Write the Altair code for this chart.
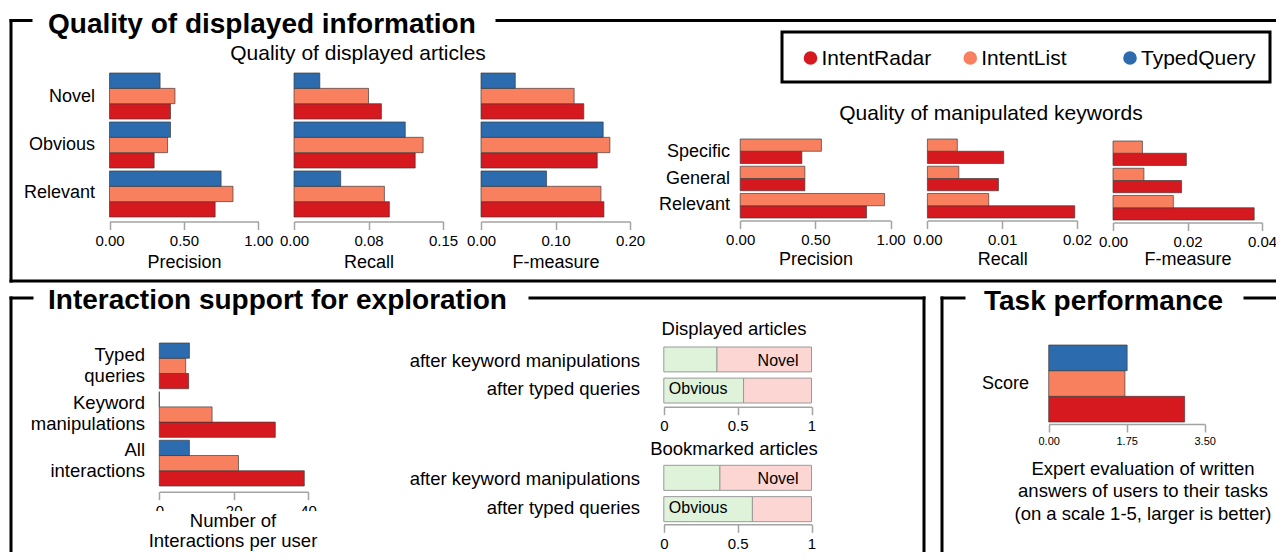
import altair as alt
import pandas as pd

# ---------------- data ----------------
series = ["IntentRadar", "IntentList", "TypedQuery"]
series_colors = ["#d6181f", "#f8805f", "#2b6bae"]

art_cats = ["Novel", "Obvious", "Relevant"]
art_prec_radar = [0.41, 0.30, 0.71]
art_prec_list = [0.44, 0.39, 0.83]
art_prec_typed = [0.34, 0.41, 0.75]
art_rec_radar = [0.088, 0.122, 0.096]
art_rec_list = [0.075, 0.130, 0.091]
art_rec_typed = [0.026, 0.112, 0.047]
art_f_radar = [0.138, 0.156, 0.165]
art_f_list = [0.125, 0.173, 0.161]
art_f_typed = [0.046, 0.164, 0.088]

kw_cats = ["Specific", "General", "Relevant"]
kw_prec_radar = [0.41, 0.43, 0.84]
kw_prec_list = [0.54, 0.43, 0.96]
kw_rec_radar = [0.0102, 0.0095, 0.0197]
kw_rec_list = [0.0040, 0.0042, 0.0082]
kw_f_radar = [0.0197, 0.0184, 0.0379]
kw_f_list = [0.0079, 0.0083, 0.0162]

int_cats = ["Typed\nqueries", "Keyword\nmanipulations", "All\ninteractions"]
int_radar = [7.9, 31.2, 39.0]
int_list = [7.1, 14.2, 21.3]
int_typed = [8.1, 0.0, 8.1]

stack_rows = ["after keyword manipulations", "after typed queries"]
stack_kinds = ["Obvious", "Novel"]
stack_colors = ["#dff2da", "#fbd6d3"]
disp_obvious = [0.36, 0.54]
disp_novel = [0.64, 0.46]
book_obvious = [0.38, 0.60]
book_novel = [0.62, 0.40]
segment_labels = ["Novel", "Obvious"]

task_cats = ["Score"]
task_radar = [3.05]
task_list = [1.71]
task_typed = [1.76]

# ---------------- layout helpers ----------------
OFF = 8
W, H = 1268, 544
FONT = "Liberation Sans"


def X(v):
    return v - OFF


def Y(v):
    return v - OFF


one = pd.DataFrame({"k": [0]})
LAYERS = []


def band_scale(cats, y_range, pad_inner):
    return alt.Scale(domain=cats, range=[Y(y_range[0]), Y(y_range[1])],
                     paddingInner=pad_inner, paddingOuter=0)


def cat_labels(cats, y_range, pad_inner, x_right, size=18, lh=21, dy=0):
    df = pd.DataFrame({"cat": cats})
    LAYERS.append(alt.Chart(df).mark_text(align="right", baseline="middle", fontSize=size,
                                          lineBreak="\n", lineHeight=lh, dy=dy,
                                          color="black").encode(
        x=alt.value(X(x_right)),
        y=alt.Y("cat:N", sort=cats, scale=band_scale(cats, y_range, pad_inner), axis=None),
        text="cat:N",
    ))


def grouped_panel(cats, vals, order, x_range, y_range, domain, ticks, axis_y, title,
                  pad_inner, label_right, fmt=".2f", label_expr=None, title_pad=5,
                  label_size=15, label_pad=4, cat_dy=0, cat_size=18):
    recs = []
    for s, v in vals.items():
        for c, x in zip(cats, v):
            recs.append({"cat": c, "series": s, "value": x})
    df = pd.DataFrame(recs)
    ax = dict(orient="bottom", offset=Y(axis_y) - H, values=ticks, format=fmt,
              title=title, titlePadding=title_pad, labelFontSize=label_size,
              labelPadding=label_pad)
    if label_expr:
        ax["labelExpr"] = label_expr
    LAYERS.append(alt.Chart(df).mark_bar(stroke="#3a3a3a", strokeWidth=0.8, strokeOpacity=0.85).encode(
        x=alt.X("value:Q", scale=alt.Scale(domain=domain, range=[X(x_range[0]), X(x_range[1])],
                                           nice=False, zero=True), axis=alt.Axis(**ax)),
        y=alt.Y("cat:N", sort=cats, scale=band_scale(cats, y_range, pad_inner), axis=None),
        yOffset=alt.YOffset("series:N", sort=order,
                            scale=alt.Scale(domain=order, paddingInner=0, paddingOuter=0)),
        color=alt.Color("series:N", scale=alt.Scale(domain=series, range=series_colors), legend=None),
    ))
    if label_right is not None:
        cat_labels(cats, y_range, pad_inner, label_right, size=cat_size, dy=cat_dy)


def stacked_panel(obv, nov, x_range, y_range, axis_y, label_right):
    recs = []
    for r, o, n in zip(stack_rows, obv, nov):
        recs.append({"cat": r, "kind": "Obvious", "value": o, "ord": 0})
        recs.append({"cat": r, "kind": "Novel", "value": n, "ord": 1})
    df = pd.DataFrame(recs)
    ys = band_scale(stack_rows, y_range, 0.2)
    LAYERS.append(alt.Chart(df).mark_bar(stroke="#9a9a9a", strokeWidth=1).encode(
        x=alt.X("value:Q", stack="zero",
                scale=alt.Scale(domain=[0, 1], range=[X(x_range[0]), X(x_range[1])], nice=False),
                axis=alt.Axis(orient="bottom", offset=Y(axis_y) - H, values=[0, 0.5, 1],
                              format="~g", title="", labelPadding=4)),
        y=alt.Y("cat:N", sort=stack_rows, scale=ys, axis=None),
        color=alt.Color("kind:N", scale=alt.Scale(domain=stack_kinds, range=stack_colors), legend=None),
        order=alt.Order("ord:Q"),
    ))
    # segment names: "Novel" at the right end of row 1, "Obvious" at the left end of row 2
    seg = pd.DataFrame({"cat": stack_rows, "pos": [1, 0], "label": segment_labels})
    xs2 = alt.Scale(domain=[0, 1], range=[X(x_range[0]), X(x_range[1])], nice=False)
    LAYERS.append(alt.Chart(seg).transform_filter("datum.pos == 1").mark_text(
        align="right", baseline="middle", fontSize=16, dx=-13, color="black").encode(
        x=alt.X("pos:Q", scale=xs2, axis=None),
        y=alt.Y("cat:N", sort=stack_rows, scale=ys, axis=None),
        text="label:N",
    ))
    LAYERS.append(alt.Chart(seg).transform_filter("datum.pos == 0").mark_text(
        align="left", baseline="middle", fontSize=16, dx=5, color="black").encode(
        x=alt.X("pos:Q", scale=xs2, axis=None),
        y=alt.Y("cat:N", sort=stack_rows, scale=ys, axis=None),
        text="label:N",
    ))
    cat_labels(stack_rows, y_range, 0.2, label_right, size=18.5)


def hline(x1, x2, y):
    return alt.Chart(one).mark_rule(strokeWidth=3, color="black", strokeCap="square").encode(
        x=alt.value(X(x1)), x2=alt.value(X(x2)), y=alt.value(Y(y)))


def vline(x, y1, y2):
    return alt.Chart(one).mark_rule(strokeWidth=3, color="black", strokeCap="square").encode(
        x=alt.value(X(x)), y=alt.value(Y(y1)), y2=alt.value(Y(y2)))


def text(t, x, y, size, align="center", baseline="middle", weight="normal", lh=None):
    kw = dict(text=t, align=align, baseline=baseline, fontSize=size, fontWeight=weight, color="black")
    if lh:
        kw["lineBreak"] = "\n"
        kw["lineHeight"] = lh
    return alt.Chart(one).mark_text(**kw).encode(x=alt.value(X(x)), y=alt.value(Y(y)))


# ---------------- panels ----------------
art_order = ["TypedQuery", "IntentList", "IntentRadar"]
kw_order = ["IntentList", "IntentRadar"]

grouped_panel(art_cats, {"IntentRadar": art_prec_radar, "IntentList": art_prec_list,
                         "TypedQuery": art_prec_typed}, art_order,
              [109.5, 258.3], [73, 217], [0, 1], [0, 0.5, 1], 221.5, "Precision", 0.06, 95)
grouped_panel(art_cats, {"IntentRadar": art_rec_radar, "IntentList": art_rec_list,
                         "TypedQuery": art_rec_typed}, art_order,
              [294, 443], [73, 217], [0, 0.15], [0, 0.075, 0.15], 221.5, "Recall", 0.06, None,
              label_expr="datum.value == 0.075 ? '0.08' : format(datum.value, '.2f')")
grouped_panel(art_cats, {"IntentRadar": art_f_radar, "IntentList": art_f_list,
                         "TypedQuery": art_f_typed}, art_order,
              [481, 630], [73, 217], [0, 0.2], [0, 0.1, 0.2], 221.5, "F-measure", 0.06, None)

grouped_panel(kw_cats, {"IntentRadar": kw_prec_radar, "IntentList": kw_prec_list}, kw_order,
              [740.2, 890.6], [139, 218], [0, 1], [0, 0.5, 1], 220.5, "Precision", 0.1, 730,
              title_pad=3)
grouped_panel(kw_cats, {"IntentRadar": kw_rec_radar, "IntentList": kw_rec_list}, kw_order,
              [927.4, 1077], [139, 218], [0, 0.02], [0, 0.01, 0.02], 220.5, "Recall", 0.1, None,
              title_pad=3)
grouped_panel(kw_cats, {"IntentRadar": kw_f_radar, "IntentList": kw_f_list}, kw_order,
              [1113, 1262], [141, 220], [0, 0.04], [0, 0.02, 0.04], 222.5, "F-measure", 0.1, None,
              title_pad=1)

grouped_panel(int_cats, {"IntentRadar": int_radar, "IntentList": int_list,
                         "TypedQuery": int_typed}, art_order,
              [159.3, 308], [343, 486], [0, 40], [0, 20, 40], 491.7, "", 0.06, 145, fmt="d",
              cat_dy=-12, cat_size=18.5)

stacked_panel(disp_obvious, disp_novel, [663.8, 811.5], [347, 403], 406.7, 640)
stacked_panel(book_obvious, book_novel, [663.8, 811.5], [465.3, 521.7], 524.3, 640)

grouped_panel(task_cats, {"IntentRadar": task_radar, "IntentList": task_list,
                          "TypedQuery": task_typed}, art_order,
              [1048.7, 1204.7], [345, 422], [0, 3.5], [0, 1.75, 3.5], 424, "", 0.0, 1029,
              label_size=11, label_pad=3)

# legend (series placed on a point scale)
leg_df = pd.DataFrame({"series": series})
leg_x = alt.Scale(type="point", domain=series, range=[X(810.5), X(1130)], padding=0)
LAYERS.append(alt.Chart(leg_df).mark_circle(size=185, opacity=1).encode(
    x=alt.X("series:N", scale=leg_x, axis=None),
    y=alt.value(Y(58)),
    color=alt.Color("series:N", scale=alt.Scale(domain=series, range=series_colors), legend=None),
))
LAYERS.append(alt.Chart(leg_df).mark_text(align="left", baseline="middle", fontSize=21, dx=11,
                                          color="black").encode(
    x=alt.X("series:N", scale=leg_x, axis=None),
    y=alt.value(Y(59)),
    text="series:N",
))
LAYERS.append(alt.Chart(one).mark_rect(fill="white", fillOpacity=0, stroke="black", strokeWidth=3).encode(
    x=alt.value(X(782)), x2=alt.value(X(1270)), y=alt.value(Y(32)), y2=alt.value(Y(82))))

# white strip hiding the lower part of the interaction tick labels, then the axis title
LAYERS.append(alt.Chart(one).mark_rect(fill="white").encode(
    x=alt.value(X(150)), x2=alt.value(X(320)), y=alt.value(Y(511)), y2=alt.value(Y(517.5))))
LAYERS.append(text("Number of\nInteractions per user", 233, 520.5, 18.5, lh=20.5))

LAYERS += [
    # top frame
    hline(11, 31, 20.5), hline(497, 1290, 20.5), vline(11, 20.5, 281), hline(11, 1290, 281),
    # bottom-left frame
    hline(11, 32, 298), hline(530, 924, 298), vline(11, 298, 600), vline(924, 298, 600),
    # bottom-right frame
    hline(942, 964, 298), hline(1245, 1290, 298), vline(942, 298, 600),
    text("Quality of displayed information", 48, 32.5, 28, align="left", baseline="alphabetic", weight="bold"),
    text("Interaction support for exploration", 48, 309, 28, align="left", baseline="alphabetic", weight="bold"),
    text("Task performance", 984, 309.5, 28, align="left", baseline="alphabetic", weight="bold"),
    text("Quality of displayed articles", 358, 54, 21),
    text("Quality of manipulated keywords", 991, 114, 21),
    text("Displayed articles", 734, 329, 18.5),
    text("Bookmarked articles", 734, 449, 18.5),
    text("Expert evaluation of written\nanswers of users to their tasks\n(on a scale 1-5, larger is better)",
         1143, 468.5, 18.5, lh=22.5),
]

chart = alt.layer(*LAYERS).resolve_scale(
    x="independent", y="independent", yOffset="independent", color="independent"
).properties(
    width=W, height=H, autosize=alt.AutoSizeParams(type="none"), padding=0
).configure(
    font=FONT
).configure_view(
    stroke=None
).configure_axis(
    grid=False, domainColor="#a3a3a3", tickColor="#a3a3a3", domainWidth=1.5, tickWidth=1.5,
    tickSize=8, labelColor="black", titleColor="black", labelFontSize=15, titleFontSize=18,
    titleFontWeight="normal", labelFlush=False, labelOverlap=False, labelFont=FONT, titleFont=FONT,
).configure_text(font=FONT)

chart.save("out.html", embed_options={"renderer": "svg", "actions": False})
